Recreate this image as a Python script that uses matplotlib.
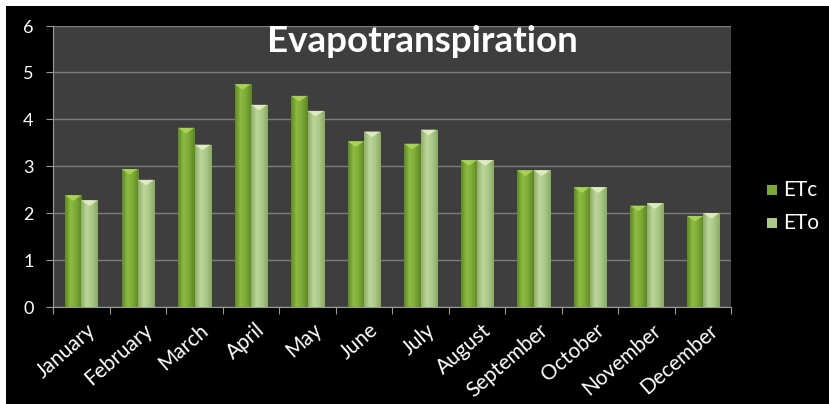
import numpy as np
import matplotlib
matplotlib.use("Agg")
import matplotlib.pyplot as plt
from matplotlib.colors import LinearSegmentedColormap
from matplotlib.patches import Rectangle, Polygon
from matplotlib.transforms import ScaledTranslation

months = ["January", "February", "March", "April", "May", "June", "July",
          "August", "September", "October", "November", "December"]
etc = [2.38, 2.94, 3.82, 4.75, 4.50, 3.53, 3.48, 3.13, 2.91, 2.55, 2.16, 1.94]
eto = [2.27, 2.71, 3.46, 4.31, 4.18, 3.74, 3.78, 3.13, 2.91, 2.55, 2.21, 2.00]
series_names = ["ETc", "ETo"]
yticks = [0, 1, 2, 3, 4, 5, 6]
title = "Evapotranspiration"

plt.rcParams['font.family'] = ['Lato', 'DejaVu Sans']

W, H = 829, 404
fig = plt.figure(figsize=(8.295, 4.045), dpi=100, facecolor="black")
fig.patches.append(Rectangle((0, 1 - 6 / H), 1, 6 / H, transform=fig.transFigure,
                             facecolor="white", edgecolor="none", zorder=-5))
fig.patches.append(Rectangle((0, 0), 6 / W, 1, transform=fig.transFigure,
                             facecolor="white", edgecolor="none", zorder=-5))

ax = fig.add_axes([53 / W, (H - 307) / H, (731 - 53) / W, (307 - 26) / H])
ax.set_facecolor("#3e3e3e")

x = np.arange(len(months))
bw = 0.285
off = 0.145
cmap_c = LinearSegmentedColormap.from_list("c", ["#5e8a26", "#8fbb42", "#7ca836", "#5c8624"])
cmap_o = LinearSegmentedColormap.from_list("o", ["#8eae68", "#bcd699", "#aac886", "#8aa964"])
cap_c = "#b0d85a"
cap_o = "#e6f0c8"

bars_c = ax.bar(x - off, etc, bw, color="#7ca836", zorder=3)
bars_o = ax.bar(x + off, eto, bw, color="#aac886", zorder=3)

grad = np.linspace(0, 1, 64).reshape(1, -1)
for bars, cmap, capcol in ((bars_c, cmap_c, cap_c), (bars_o, cmap_o, cap_o)):
    for b in bars:
        x0, y0 = b.get_x(), b.get_y()
        w, h = b.get_width(), b.get_height()
        im = ax.imshow(grad, cmap=cmap, aspect="auto", extent=(x0, x0 + w, y0, y0 + h),
                       zorder=3.5, interpolation="bilinear")
        im.set_clip_path(b)
        d = 0.12
        tri = Polygon([(x0, y0 + h), (x0 + w, y0 + h), (x0 + w * 0.5, y0 + h - d)],
                      closed=True, facecolor=capcol, edgecolor="none", zorder=4, alpha=0.85)
        ax.add_patch(tri)

ax.set_xlim(-0.5, len(months) - 0.5)
ax.set_ylim(0, 6)
ax.set_yticks(yticks)
ax.set_yticklabels([str(v) for v in yticks])
ax.yaxis.grid(True, color="#7c7c7c", linewidth=1.0, zorder=1)
ax.set_axisbelow(True)

ax.set_xticks(np.arange(len(months) + 1) - 0.5, minor=False)
ax.set_xticklabels([])
ax.set_xticks(x, minor=True)
ax.set_xticklabels(months, minor=True, rotation=41, ha="right", va="top",
                   rotation_mode="anchor", fontsize=15, color="white")
ax.tick_params(axis="x", which="major", length=5, color="#9a9a9a", direction="out")
ax.tick_params(axis="x", which="minor", length=0, pad=9)
ax.tick_params(axis="y", length=5, color="#9a9a9a", labelsize=13, labelcolor="white", pad=9)
for lab in ax.get_xticklabels(minor=True):
    lab.set_transform(lab.get_transform() + ScaledTranslation(5 / 100, 0, fig.dpi_scale_trans))

for s in ("top", "right"):
    ax.spines[s].set_visible(False)
ax.spines["left"].set_color("#9a9a9a")
ax.spines["bottom"].set_color("#9a9a9a")

ax.text((422 - 53) / 678, (307 - 52) / 281, title, transform=ax.transAxes,
        ha="center", va="baseline", fontsize=26.5, fontweight="bold", color="white", zorder=6)

leg_items = [(series_names[0], "#7ca836", 190), (series_names[1], "#aac886", 223)]
for name, col, yc in leg_items:
    fig.patches.append(Rectangle((767 / W, (H - yc - 5) / H), 10 / W, 10 / H,
                                 transform=fig.transFigure, facecolor=col, edgecolor="none"))
    fig.text(783 / W, (H - yc) / H, name, ha="left", va="center", fontsize=15, color="white")

fig.savefig("out.png", dpi=100, facecolor="black")
